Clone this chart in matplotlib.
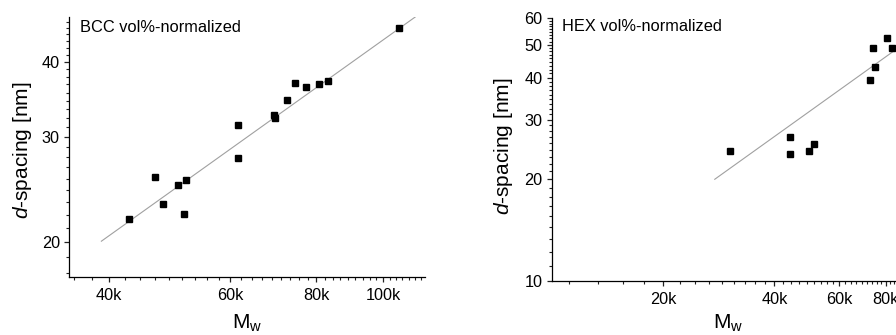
import matplotlib
matplotlib.use('Agg')
import matplotlib.pyplot as plt
import numpy as np
from matplotlib.ticker import FixedLocator, FixedFormatter, NullFormatter

plt.rcParams['font.family'] = ['Liberation Sans', 'DejaVu Sans']
plt.rcParams['mathtext.fontset'] = 'custom'
plt.rcParams['mathtext.rm'] = 'Liberation Sans'
plt.rcParams['mathtext.it'] = 'Liberation Sans:italic'

# ---- data: BCC panel ----
bcc_mw = [42700, 46700, 47900, 50400, 51400, 51800, 61600, 61600, 69400, 69700,
          72400, 74400, 77300, 80800, 83100, 105500]
bcc_d = [21.85, 25.7, 23.2, 24.9, 22.3, 25.4, 31.4, 27.7, 32.6, 32.2,
         34.5, 36.9, 36.3, 36.7, 37.1, 45.6]
bcc_fit_mw = [39000, 111300]
bcc_fit_d = [20.1, 47.5]
bcc_xticks = [40000, 60000, 80000, 100000]
bcc_xticklabels = ['40k', '60k', '80k', '100k']
bcc_yticks = [20, 30, 40]
bcc_yticklabels = ['20', '30', '40']

# ---- data: HEX panel ----
hex_mw = [30400, 44100, 44100, 49700, 51100, 72500, 74100, 74700, 80800, 83200]
hex_d = [24.3, 26.7, 23.8, 24.2, 25.4, 39.2, 48.9, 42.9, 52.2, 48.9]
hex_fit_mw = [27600, 90000]
hex_fit_d = [20.0, 50.5]
hex_xticks = [20000, 40000, 60000, 80000]
hex_xticklabels = ['20k', '40k', '60k', '80k']
hex_yticks = [10, 20, 30, 40, 50, 60]
hex_yticklabels = ['10', '20', '30', '40', '50', '60']


def minor_between(majors, step):
    ext = [majors[0] - step] + list(majors) + [majors[-1] + step]
    out = []
    for a, b in zip(ext[:-1], ext[1:]):
        out.extend(np.linspace(a, b, 10)[1:-1])
    return [v for v in out if v > 0]


fig = plt.figure(figsize=(8.96, 3.35), dpi=100)

TICK_FS = 11.7
LABEL_FS = 15
TITLE_FS = 11.8


def style(ax, xt, xtl, yt, ytl, xstep, ystep):
    ax.set_xscale('log')
    ax.set_yscale('log')
    ax.spines['top'].set_visible(False)
    ax.spines['right'].set_visible(False)
    for s in ('left', 'bottom'):
        ax.spines[s].set_linewidth(0.9)
    ax.xaxis.set_major_locator(FixedLocator(xt))
    ax.xaxis.set_major_formatter(FixedFormatter(xtl))
    ax.xaxis.set_minor_locator(FixedLocator(minor_between(xt, xstep)))
    ax.xaxis.set_minor_formatter(NullFormatter())
    ax.yaxis.set_major_locator(FixedLocator(yt))
    ax.yaxis.set_major_formatter(FixedFormatter(ytl))
    ax.yaxis.set_minor_locator(FixedLocator(minor_between(yt, ystep)))
    ax.yaxis.set_minor_formatter(NullFormatter())
    ax.tick_params(which='major', direction='out', length=3.6, width=0.9,
                   labelsize=TICK_FS, color='#222222')
    ax.tick_params(which='minor', direction='out', length=2.0, width=0.8,
                   color='#222222')
    ax.tick_params(axis='x', which='major', pad=4)
    ax.tick_params(axis='y', which='major', pad=3)


# left panel
ax1 = fig.add_axes([0.07701, 0.17224, 0.39732, 0.7770])
ax1.plot(bcc_fit_mw, bcc_fit_d, color='#a0a0a0', lw=0.8)
ax1.plot(bcc_mw, bcc_d, 's', color='black', ms=4.2, mec='black')
ax1.set_xlim(35000, 115000)
ax1.set_ylim(17.5, 47.5)
style(ax1, bcc_xticks, bcc_xticklabels, bcc_yticks, bcc_yticklabels, 20000, 10)
ax1.text(0.031, 0.961, 'BCC vol%-normalized', transform=ax1.transAxes,
         ha='left', va='center', fontsize=TITLE_FS)
ax1.set_ylabel(r'$\it{d}$-spacing [nm]', fontsize=LABEL_FS, va='center')
ax1.yaxis.set_label_coords(-0.132, 0.488)
ax1.set_xlabel(r'M$_\mathrm{w}$', fontsize=LABEL_FS, va='top')
ax1.xaxis.set_label_coords(0.5, -0.1346)

# right panel
ax2 = fig.add_axes([0.61574, 0.16119, 0.39386, 0.78507])
ax2.plot(hex_fit_mw, hex_fit_d, color='#a0a0a0', lw=0.8)
ax2.plot(hex_mw, hex_d, 's', color='black', ms=4.2, mec='black')
ax2.set_xlim(10000, 90000)
ax2.set_ylim(10, 60)
style(ax2, hex_xticks, hex_xticklabels, hex_yticks, hex_yticklabels, 20000, 10)
ax2.text(0.028, 0.967, 'HEX vol%-normalized', transform=ax2.transAxes,
         ha='left', va='center', fontsize=TITLE_FS)
ax2.set_ylabel(r'$\it{d}$-spacing [nm]', fontsize=LABEL_FS, va='center')
ax2.yaxis.set_label_coords(-0.138, 0.511)
ax2.set_xlabel(r'M$_\mathrm{w}$', fontsize=LABEL_FS, va='top')
ax2.xaxis.set_label_coords(0.5, -0.1198)

fig.savefig('out.png', dpi=100)
